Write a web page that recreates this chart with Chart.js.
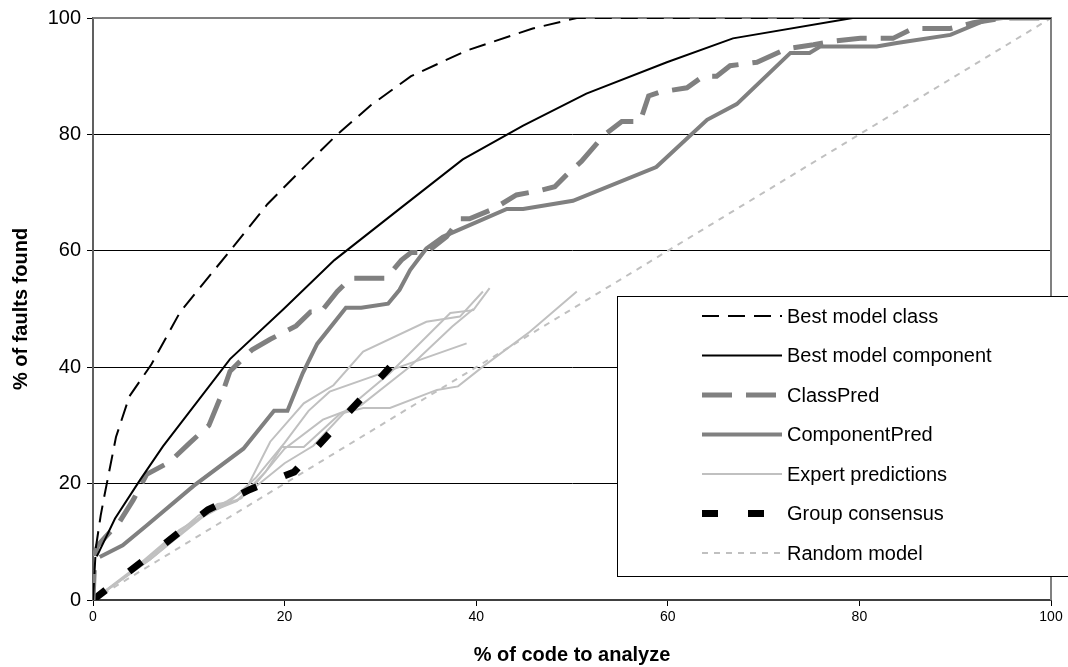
<!DOCTYPE html>
<html>
<head>
<meta charset="utf-8">
<script src="https://cdn.jsdelivr.net/npm/chart.js@4.4.1/dist/chart.umd.min.js"></script>
<style>
  html, body { margin: 0; padding: 0; background: #fff; }
  #wrap { width: 1068px; height: 667px; position: relative; }
</style>
</head>
<body>
<div id="wrap"><canvas id="liftChart"></canvas></div>
<script>
// cumulative lift curves: % of code analyzed (x) vs % of faults found (y)
const xTicks = [0, 20, 40, 60, 80, 100];
const yTicks = [0, 20, 40, 60, 80, 100];

const bestModelClass = [[0,0],[0.3,9],[0.8,14.5],[1.2,18],[2.4,28],[3.8,35],[6.1,40.5],[9.1,49.5],[14.3,60],[18.2,68],[21.5,73.5],[25.5,80],[29,85],[33.2,90],[39,94.4],[45.9,98.2],[50.5,100],[100,100]];
const bestModelComponent = [[0.4,7.5],[2.3,14],[4.9,20.6],[7.3,26.4],[14.3,41.4],[19.9,50],[25.2,58.4],[32,67.2],[38.6,75.7],[44.9,81.5],[51.5,87],[59.9,92.4],[66.8,96.5],[79.3,100],[100,100]];
const classPred = [[0,0],[0.2,8],[0.5,9.4],[2.8,13.5],[4.2,17.2],[5.6,21.6],[8,23.7],[10.1,27],[12.1,30],[13.6,36],[14.3,39.3],[16.6,43],[18.5,44.8],[21.2,47.1],[22.7,49.5],[23.8,49.5],[25.5,53],[26.9,55.3],[30.6,55.3],[32.2,58.4],[33.2,59.7],[34.8,59.7],[36.9,62.4],[38.3,65.5],[39.3,65.5],[41.8,67.2],[44.2,69.6],[46.5,70.3],[48.2,71],[49.4,73],[51,75.4],[53.3,79.8],[55.2,82.2],[57.1,82.2],[58,86.6],[59.2,87.3],[62,88],[63.7,90],[65.1,90],[66.5,91.8],[69.3,92.4],[72.4,94.7],[75.2,95.4],[77.6,96.1],[80.1,96.5],[83.5,96.5],[85.6,98.2],[89.5,98.2],[91.9,99.2],[95,100],[100,100]];
const componentPred = [[0.7,7.4],[3.1,9.4],[5.6,12.8],[10.5,19.6],[15.7,26],[18.9,32.5],[20.3,32.5],[21.9,39],[23.4,44],[26.4,50.2],[28,50.2],[30.8,50.9],[32,53.3],[33.1,56.7],[34.8,60.4],[36.5,62.4],[43.2,67.2],[44.9,67.2],[50.1,68.6],[58.8,74.4],[64.1,82.5],[67.2,85.2],[72.8,94],[74.8,94],[75.9,95.1],[81.8,95.1],[83.9,95.7],[89.5,97.1],[93.3,99.7],[95,100],[100,100]];
const expert1 = [[0,0],[4,5],[9,12],[13,16],[15.5,17.5],[18.5,27.2],[22,33.8],[25.1,36.9],[28.2,42.7],[34.8,47.8],[38.3,48.7],[40.7,53]];
const expert2 = [[0,0],[5,6],[10,13],[14,16.5],[17,21],[20,27],[22.5,32.5],[24.7,35.8],[39,44.1]];
const expert3 = [[0,0],[6,7],[11,14],[13,16.5],[15,17],[17,19.5],[20,23.5],[23,26.5],[26.8,33.2],[31,39],[37.3,49.3],[39.7,49.8],[41.4,53.6]];
const expert4 = [[0,0],[6,7],[12,15],[15,17],[18,22],[19.7,26.3],[22,26.3],[25.8,32],[28.2,33],[31,33],[35.9,36.1],[38.1,36.7],[40.7,40.1],[45.6,46.1],[50.5,53]];
const expert5 = [[0,0],[5,6],[11,14.5],[14,17],[17,20],[20,26],[24,31],[28,33.5],[33,40],[37.5,47],[39.7,50]];
const groupConsensus = [[0,0],[12,15.5],[16.4,19],[21,22],[31,40]];
const randomModel = [[0,0],[100,100]];

const pts = arr => arr.map(([x, y]) => ({ x, y }));

const datasets = [
  { label: "Best model class", data: pts(bestModelClass), borderColor: "#000", borderWidth: 2, borderDash: [17, 9], order: 1, inLegend: true },
  { label: "Best model component", data: pts(bestModelComponent), borderColor: "#000", borderWidth: 2, order: 2, inLegend: true },
  { label: "ClassPred", data: pts(classPred), borderColor: "#808080", borderWidth: 5, borderDash: [30, 14], order: 3, inLegend: true },
  { label: "ComponentPred", data: pts(componentPred), borderColor: "#808080", borderWidth: 4, order: 4, inLegend: true },
];
[expert1, expert2, expert3, expert4, expert5].forEach((e, i) => {
  datasets.push({ label: "Expert predictions", data: pts(e), borderColor: "#c0c0c0", borderWidth: 2, order: 6, inLegend: i === 0 });
});
datasets.push({ label: "Group consensus", data: pts(groupConsensus), borderColor: "#000", borderWidth: 7, borderDash: [16, 30], borderCapStyle: "butt", order: 5, inLegend: true });
datasets.push({ label: "Random model", data: pts(randomModel), borderColor: "#c0c0c0", borderWidth: 2, borderDash: [6, 6], order: 7, inLegend: true });

// gray frame on top and right of the plot area
const frame = {
  id: "frame",
  beforeDatasetsDraw(chart) {
    const { ctx, chartArea: a } = chart;
    ctx.save();
    ctx.strokeStyle = "#808080";
    ctx.lineWidth = 2;
    ctx.beginPath();
    ctx.moveTo(a.left, a.top);
    ctx.lineTo(a.right, a.top);
    ctx.lineTo(a.right, a.bottom);
    ctx.stroke();
    ctx.restore();
  }
};

// boxed legend in the lower right, one row per series kind
const boxLegend = {
  id: "boxLegend",
  afterDraw(chart) {
    const { ctx } = chart;
    const items = chart.data.datasets.filter(d => d.inLegend);
    const left = 617, top = 296, bottom = 576;
    ctx.save();
    ctx.fillStyle = "#fff";
    ctx.fillRect(left, top, 1068 - left + 5, bottom - top);
    ctx.strokeStyle = "#000";
    ctx.lineWidth = 1;
    ctx.strokeRect(left + 0.5, top + 0.5, 1068 - left + 5, bottom - top);
    ctx.font = "20px 'Liberation Sans', Arial, sans-serif";
    ctx.textBaseline = "middle";
    items.forEach((d, i) => {
      const y = 316 + i * 39.5;
      ctx.strokeStyle = d.borderColor;
      ctx.lineWidth = d.borderWidth;
      ctx.setLineDash(d.borderDash || []);
      ctx.lineCap = "butt";
      ctx.beginPath();
      ctx.moveTo(702, y);
      ctx.lineTo(782, y);
      ctx.stroke();
      ctx.setLineDash([]);
      ctx.fillStyle = "#000";
      ctx.fillText(d.label, 787, y + 1);
    });
    ctx.restore();
  }
};

new Chart(document.getElementById("liftChart"), {
  type: "line",
  data: { datasets: datasets },
  options: {
    responsive: true,
    maintainAspectRatio: false,
    animation: false,
    layout: { padding: { top: 18, right: 17, left: 0, bottom: 0 } },
    elements: { point: { radius: 0 }, line: { tension: 0, fill: false } },
    plugins: { legend: { display: false }, tooltip: { enabled: false } },
    scales: {
      x: {
        type: "linear",
        min: 0, max: 100,
        afterFit: s => { s.height = 67; },
        afterBuildTicks: s => { s.ticks = xTicks.map(v => ({ value: v })); },
        ticks: { color: "#000", padding: 3, font: { size: 14, family: "'Liberation Sans', Arial, sans-serif" } },
        grid: { drawOnChartArea: false, drawTicks: true, tickLength: 6, color: "#000" },
        border: { color: "#404040", width: 2 },
        title: { display: true, text: "% of code to analyze", color: "#000", padding: { top: 0, bottom: 0 },
          font: { size: 20, weight: "bold", family: "'Liberation Sans', Arial, sans-serif" } }
      },
      y: {
        type: "linear",
        min: 0, max: 100,
        afterFit: s => { s.width = 93; },
        afterBuildTicks: s => { s.ticks = yTicks.map(v => ({ value: v })); },
        ticks: { color: "#000", padding: 6, font: { size: 20, family: "'Liberation Sans', Arial, sans-serif" } },
        grid: {
          color: c => (c.tick && (c.tick.value === 0 || c.tick.value === 100)) ? "rgba(0,0,0,0)" : "#000",
          tickColor: "#000", tickLength: 6, lineWidth: 1
        },
        border: { color: "#606060", width: 2 },
        title: { display: true, text: "% of faults found", color: "#000", padding: { top: 9, bottom: 0 },
          font: { size: 20, weight: "bold", family: "'Liberation Sans', Arial, sans-serif" } }
      }
    }
  },
  plugins: [frame, boxLegend]
});
</script>
</body>
</html>
